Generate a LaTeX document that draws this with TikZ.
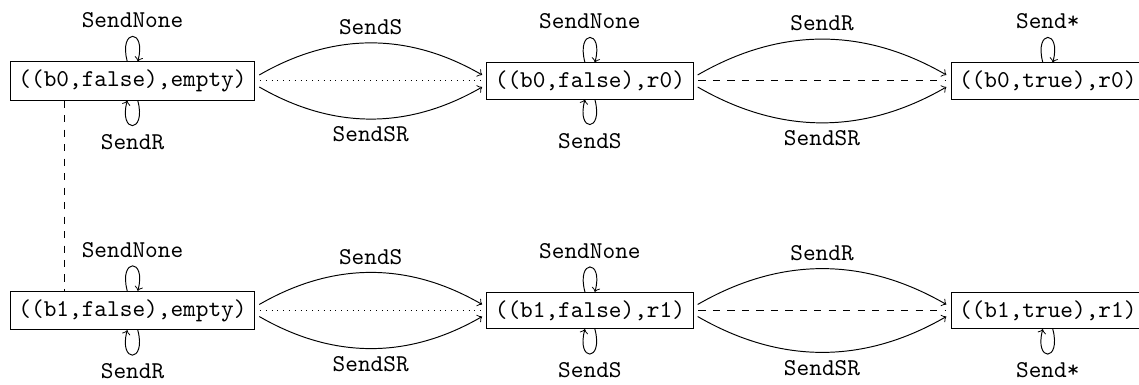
\documentclass[tikz,border=0pt]{standalone}
\usetikzlibrary{arrows}

\begin{document}
\begin{tikzpicture}[font=\ttfamily,
    state/.style={draw, rectangle},
    trans/.style={->, shorten <=2pt, shorten >=2pt},
    link/.style={shorten <=2pt, shorten >=2pt}]

    \useasboundingbox (0,0) rectangle (16.58,5.604);

    % states, b0
    \node[state] (b0e) at (1.929,4.425) {((b0,false),empty)};
    \node[state] (b0r) at (8.587,4.425) {((b0,false),r0)};
    \node[state] (b0t) at (15.252,4.425) {((b0,true),r0)};

    % states, b1
    \node[state] (b1e) at (1.929,1.084) {((b1,false),empty)};
    \node[state] (b1r) at (8.587,1.084) {((b1,false),r1)};
    \node[state] (b1t) at (15.252,1.084) {((b1,true),r1)};

    % self loops
    \draw[->] (b0e) to[loop above] node[above] {SendNone} (b0e);
    \draw[->] (b0e) to[loop below] node[below] {SendR} (b0e);
    \draw[->] (b0r) to[loop above] node[above] {SendNone} (b0r);
    \draw[->] (b0r) to[loop below] node[below] {SendS} (b0r);
    \draw[->] (b0t) to[loop above] node[above] {Send*} (b0t);

    \draw[->] (b1e) to[loop above] node[above] {SendNone} (b1e);
    \draw[->] (b1e) to[loop below] node[below] {SendR} (b1e);
    \draw[->] (b1r) to[loop above] node[above] {SendNone} (b1r);
    \draw[->] (b1r) to[loop below] node[below] {SendS} (b1r);
    \draw[->] (b1t) to[loop below] node[below] {Send*} (b1t);

    % transitions, b0
    \draw[trans] ([yshift=1.5pt]b0e.east) to[bend left=30] node[above] {SendS} ([yshift=1.5pt]b0r.west);
    \draw[trans] ([yshift=-1.5pt]b0e.east) to[bend right=30] node[below] {SendSR} ([yshift=-1.5pt]b0r.west);
    \draw[trans] ([yshift=1.5pt]b0r.east) to[bend left=30] node[above] {SendR} ([yshift=1.5pt]b0t.west);
    \draw[trans] ([yshift=-1.5pt]b0r.east) to[bend right=30] node[below] {SendSR} ([yshift=-1.5pt]b0t.west);

    % transitions, b1
    \draw[trans] ([yshift=1.5pt]b1e.east) to[bend left=30] node[above] {SendS} ([yshift=1.5pt]b1r.west);
    \draw[trans] ([yshift=-1.5pt]b1e.east) to[bend right=30] node[below] {SendSR} ([yshift=-1.5pt]b1r.west);
    \draw[trans] ([yshift=1.5pt]b1r.east) to[bend left=30] node[above] {SendR} ([yshift=1.5pt]b1t.west);
    \draw[trans] ([yshift=-1.5pt]b1r.east) to[bend right=30] node[below] {SendSR} ([yshift=-1.5pt]b1t.west);

    % links
    \draw[link, dotted] (b0e.east) -- (b0r.west);
    \draw[link, dashed] (b0r.east) -- (b0t.west);
    \draw[link, dotted] (b1e.east) -- (b1r.west);
    \draw[link, dashed] (b1r.east) -- (b1t.west);
    \draw[dashed] ([xshift=-28pt]b0e.south) -- ([xshift=-28pt]b1e.north);

\end{tikzpicture}
\end{document}
